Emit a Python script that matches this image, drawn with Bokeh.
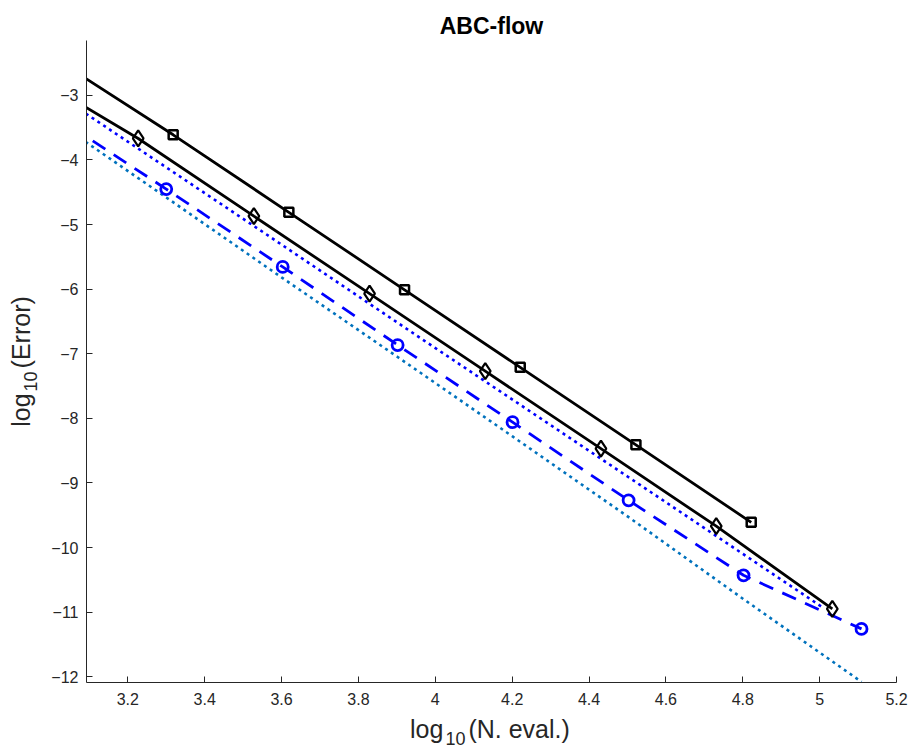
from bokeh.plotting import figure
from bokeh.models import FixedTicker, Range1d, Div
from bokeh.layouts import row, column
from bokeh.embed import file_html
from bokeh.resources import INLINE

# ---- data (log10 N. eval., log10 Error) ----
sq_x = [3.018, 3.318, 3.619, 3.920, 4.221, 4.522, 4.822]
sq_y = [-2.46, -3.61, -4.81, -6.01, -7.21, -8.41, -9.61]

dm_x = [2.927, 3.227, 3.528, 3.829, 4.130, 4.431, 4.731, 5.033]
dm_y = [-2.60, -3.667, -4.87, -6.07, -7.27, -8.47, -9.67, -10.95]

bd_x = [3.000, 3.545, 3.962, 4.500, 5.011]
bd_y = [-2.92, -5.09, -6.76, -8.90, -10.94]

ci_x = [3.000, 3.300, 3.603, 3.902, 4.201, 4.503, 4.802, 5.109]
ci_y = [-3.28, -4.45, -5.656, -6.865, -8.06, -9.27, -10.43, -11.26]

tl_x = [3.000, 3.300, 3.603, 3.902, 4.201, 4.503, 4.802, 5.109]
tl_y = [-3.35, -4.58, -5.83, -7.05, -8.28, -9.53, -10.80, -12.08]

x_ticks = [3.2, 3.4, 3.6, 3.8, 4.0, 4.2, 4.4, 4.6, 4.8, 5.0, 5.2]
x_tick_labels = ["3.2", "3.4", "3.6", "3.8", "4", "4.2", "4.4", "4.6", "4.8", "5", "5.2"]
y_ticks = [-12, -11, -10, -9, -8, -7, -6, -5, -4, -3]

FONT = "Liberation Sans"
AX = "#262626"

YDIV_W = 44
XDIV_H = 36

p = figure(width=908 - YDIV_W, height=748 - XDIV_H, output_backend="svg",
           toolbar_location=None,
           x_range=Range1d(3.0925, 5.2), y_range=Range1d(-12.09, -2.15),
           min_border_left=86 - YDIV_W, min_border_right=12, min_border_top=40,
           min_border_bottom=30, title="ABC-flow")
p.outline_line_color = None
p.grid.visible = False
p.background_fill_color = "white"

p.title.align = "center"
p.title.text_font = FONT
p.title.text_font_size = "23px"
p.title.text_font_style = "bold"
p.title.text_color = "black"
p.title.offset = 0
p.title.standoff = 4

# lines
p.line(sq_x, sq_y, line_color="black", line_width=2.8)
p.line(dm_x, dm_y, line_color="black", line_width=2.8)
p.line(bd_x, bd_y, line_color="#0000ff", line_width=2.6, line_dash="3 4")
p.line(ci_x, ci_y, line_color="#0000ff", line_width=2.8, line_dash="15 10")
p.line(tl_x, tl_y, line_color="#0072bd", line_width=2.6, line_dash="3 4")

# markers
p.scatter(sq_x[1:], sq_y[1:], marker="square", size=9, line_color="black",
          fill_color=None, line_width=2.5)
p.scatter(dm_x[1:], dm_y[1:], marker="diamond", size=16, line_color="black",
          fill_color=None, line_width=2.2)
p.scatter(ci_x[1:], ci_y[1:], marker="circle", size=11, line_color="#0000ff",
          fill_color=None, line_width=2.8)

# axes
for ax in (p.xaxis[0], p.yaxis[0]):
    ax.axis_line_color = AX
    ax.major_tick_line_color = AX
    ax.minor_tick_line_color = None
    ax.major_tick_in = 6
    ax.major_tick_out = 0
    ax.major_label_text_font = FONT
    ax.major_label_text_font_size = "16px"
    ax.major_label_text_color = AX

p.xaxis.ticker = FixedTicker(ticks=x_ticks)
p.xaxis.major_label_overrides = {t: l for t, l in zip(x_ticks, x_tick_labels)}
p.yaxis.ticker = FixedTicker(ticks=y_ticks)
p.xaxis.major_label_standoff = 10
p.yaxis.major_label_standoff = 8

# axis labels with real subscripts
SUB = ("<span style=\"font-size:18px;position:relative;top:7px;"
       "margin:0 3px 0 2px\">10</span>")
BASE = (f"font-family:'{FONT}';font-size:25px;color:{AX};"
        "white-space:nowrap;line-height:30px;")

xdiv = Div(text=f"<div style=\"{BASE}padding-left:{410 - YDIV_W}px;"
                f"padding-top:2px\">log{SUB}(N. eval.)</div>",
           width=908 - YDIV_W, height=XDIV_H, margin=(0, 0, 0, 0))

ydiv = Div(text=f"<div style=\"width:{YDIV_W}px;height:748px;display:flex;"
                "align-items:center;justify-content:center;\">"
                f"<div style=\"{BASE}transform:translate(0px,-13px) rotate(-90deg);"
                f"\">log{SUB}(Error)</div></div>",
           width=YDIV_W, height=748, margin=(0, 0, 0, 0))

layout = row(ydiv, column(p, xdiv))

open("out.html", "w").write(file_html(layout, INLINE))
